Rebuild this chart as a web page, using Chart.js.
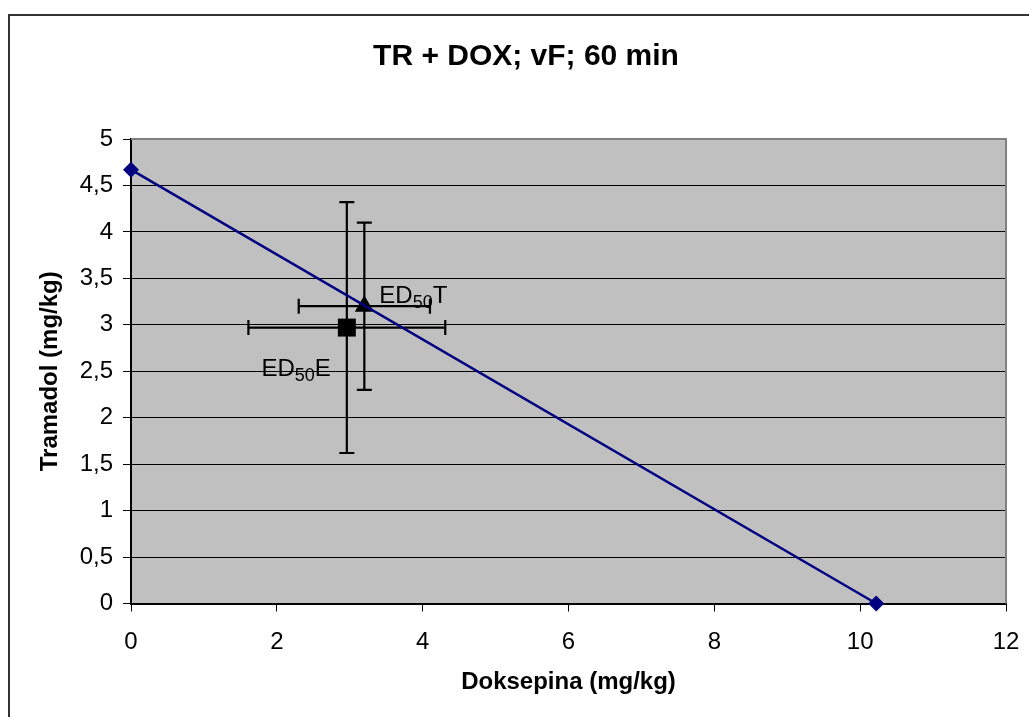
<!DOCTYPE html>
<html>
<head>
<meta charset="utf-8">
<script src="https://cdn.jsdelivr.net/npm/chart.js@4/dist/chart.umd.min.js"></script>
<style>
  html, body { margin: 0; padding: 0; background: #fff; }
  canvas { display: block; }
</style>
</head>
<body>
<canvas id="chart1" width="1029" height="717"></canvas>
<script>
(function() {
    const chartTitle = "TR + DOX; vF; 60 min"
    const xTitle = "Doksepina (mg/kg)"
    const yTitle = "Tramadol (mg/kg)"

    // isobole line (additivity line)
    const lineX = [0, 10.22]
    const lineY = [4.67, 0]

    // ED50 points with SD
    const pointNames = ["E", "T"]   // ED50E (experimental), ED50T (theoretical)
    const pointX = [2.96, 3.2]
    const pointY = [2.97, 3.2]
    const pointXErr = [1.35, 0.9]
    const pointYErr = [1.35, 0.9]
    const pointShapes = ["rect", "triangle"]

    const xTicks = [0, 2, 4, 6, 8, 10, 12]
    const yTicks = [0, 0.5, 1, 1.5, 2, 2.5, 3, 3.5, 4, 4.5, 5]

    const FONT = "'Liberation Sans', Arial, sans-serif"

    const setTicks = (vals) => (scale) => { scale.ticks = vals.map(v => ({ value: v })) }

    // grey plot area + outer frame + title
    const framePlugin = {
        id: "frame",
        beforeDraw(chart) {
            const { ctx, chartArea: a } = chart
            ctx.save()
            ctx.fillStyle = "#fff"
            ctx.fillRect(0, 0, chart.width, chart.height)
            ctx.fillStyle = "#c0c0c0"
            ctx.fillRect(a.left, a.top, a.right - a.left, a.bottom - a.top)
            ctx.strokeStyle = "#333"
            ctx.lineWidth = 2
            ctx.strokeRect(9, 15, 1100, 800)
            ctx.fillStyle = "#000"
            ctx.font = "bold 30px " + FONT
            ctx.textAlign = "center"
            ctx.textBaseline = "middle"
            ctx.fillText(chartTitle, 526, 57)
            ctx.restore()
        },
        beforeDatasetsDraw(chart) {
            const { ctx, chartArea: a } = chart
            ctx.save()
            ctx.strokeStyle = "#808080"
            ctx.lineWidth = 2
            ctx.beginPath()
            ctx.moveTo(a.left, a.top)
            ctx.lineTo(a.right, a.top)
            ctx.lineTo(a.right, a.bottom)
            ctx.stroke()

            // error bars
            const xs = chart.scales.x, ys = chart.scales.y
            ctx.strokeStyle = "#000"
            ctx.lineWidth = 2.2
            const cap = 7.5
            for (let i = 0; i < pointX.length; i++) {
                const px = xs.getPixelForValue(pointX[i])
                const py = ys.getPixelForValue(pointY[i])
                const x0 = xs.getPixelForValue(pointX[i] - pointXErr[i])
                const x1 = xs.getPixelForValue(pointX[i] + pointXErr[i])
                const y0 = ys.getPixelForValue(pointY[i] - pointYErr[i])
                const y1 = ys.getPixelForValue(pointY[i] + pointYErr[i])
                ctx.beginPath()
                ctx.moveTo(x0, py); ctx.lineTo(x1, py)
                ctx.moveTo(x0, py - cap); ctx.lineTo(x0, py + cap)
                ctx.moveTo(x1, py - cap); ctx.lineTo(x1, py + cap)
                ctx.moveTo(px, y0); ctx.lineTo(px, y1)
                ctx.moveTo(px - cap, y0); ctx.lineTo(px + cap, y0)
                ctx.moveTo(px - cap, y1); ctx.lineTo(px + cap, y1)
                ctx.stroke()
            }
            ctx.restore()
        },
        afterDatasetsDraw(chart) {
            const { ctx } = chart
            const xs = chart.scales.x, ys = chart.scales.y
            ctx.save()
            ctx.fillStyle = "#000"
            ctx.textBaseline = "alphabetic"
            ctx.textAlign = "left"
            const big = "24px " + FONT, small = "18px " + FONT
            for (let i = 0; i < pointX.length; i++) {
                const px = xs.getPixelForValue(pointX[i])
                const py = ys.getPixelForValue(pointY[i])
                ctx.font = big
                const w1 = ctx.measureText("ED").width
                const w3 = ctx.measureText(pointNames[i]).width
                ctx.font = small
                const w2 = ctx.measureText("50").width
                const total = w1 + w2 + w3
                let x, y
                if (pointNames[i] === "T") { x = px + 15; y = py - 3 }
                else { x = px - 16 - total; y = py + 48 }
                ctx.font = big
                ctx.fillText("ED", x, y)
                ctx.font = small
                ctx.fillText("50", x + w1, y + 5)
                ctx.font = big
                ctx.fillText(pointNames[i], x + w1 + w2, y)
            }
            ctx.restore()
        }
    }

    const datasets = [{
        label: "isobole",
        data: lineX.map((x, i) => ({ x: x, y: lineY[i] })),
        showLine: true,
        borderColor: "#000080",
        backgroundColor: "#000080",
        borderWidth: 2.5,
        pointStyle: "rectRot",
        pointRadius: 8,
        pointBorderWidth: 0,
        clip: false,
    }]
    for (let i = 0; i < pointX.length; i++) {
        datasets.push({
            label: "ED50" + pointNames[i],
            data: [{ x: pointX[i], y: pointY[i] }],
            showLine: false,
            backgroundColor: "#000",
            borderColor: "#000",
            pointStyle: pointShapes[i],
            pointRadius: pointShapes[i] === "rect" ? 12.7 : 11,
            pointBorderWidth: 0,
            clip: false,
        })
    }

    const chart = {
        type: "scatter",
        data: { datasets: datasets },
        plugins: [framePlugin],
        options: {
            responsive: false,
            devicePixelRatio: 1,
            animation: false,
            layout: { padding: { left: 20, right: 23, top: 139, bottom: 0 } },
            plugins: {
                legend: { display: false },
                tooltip: { enabled: false },
            },
            scales: {
                x: {
                    type: "linear",
                    position: "bottom",
                    min: 0, max: 12,
                    afterBuildTicks: setTicks(xTicks),
                    afterFit(scale) {
                        scale.height = 113.5
                        scale.paddingLeft = 0
                        scale.paddingRight = 0
                    },
                    grid: { drawOnChartArea: false, drawTicks: true, tickLength: 8, color: "#000", lineWidth: 1 },
                    border: { display: true, color: "#000", width: 2 },
                    ticks: { color: "#000", font: { family: FONT, size: 24 }, padding: 16, maxRotation: 0 },
                    title: {
                        display: true, text: xTitle, color: "#000",
                        font: { family: FONT, size: 24, weight: "bold" },
                        padding: { top: 0, bottom: 20 }
                    }
                },
                y: {
                    type: "linear",
                    position: "left",
                    min: 0, max: 5,
                    afterBuildTicks: setTicks(yTicks),
                    afterFit(scale) { scale.width = 111 },
                    grid: { drawTicks: true, tickLength: 8, color: "#000", lineWidth: 1 },
                    border: { display: true, color: "#000", width: 2 },
                    ticks: {
                        color: "#000", font: { family: FONT, size: 24 }, padding: 10,
                        callback: (v) => String(v).replace(".", ",")
                    },
                    title: {
                        display: true, text: yTitle, color: "#000",
                        font: { family: FONT, size: 24, weight: "bold" },
                        padding: { top: 16, bottom: 0 }
                    }
                }
            }
        }
    }

    const ctx = document.getElementById("chart1").getContext("2d")
    new Chart(ctx, chart)
})()
</script>
</body>
</html>
